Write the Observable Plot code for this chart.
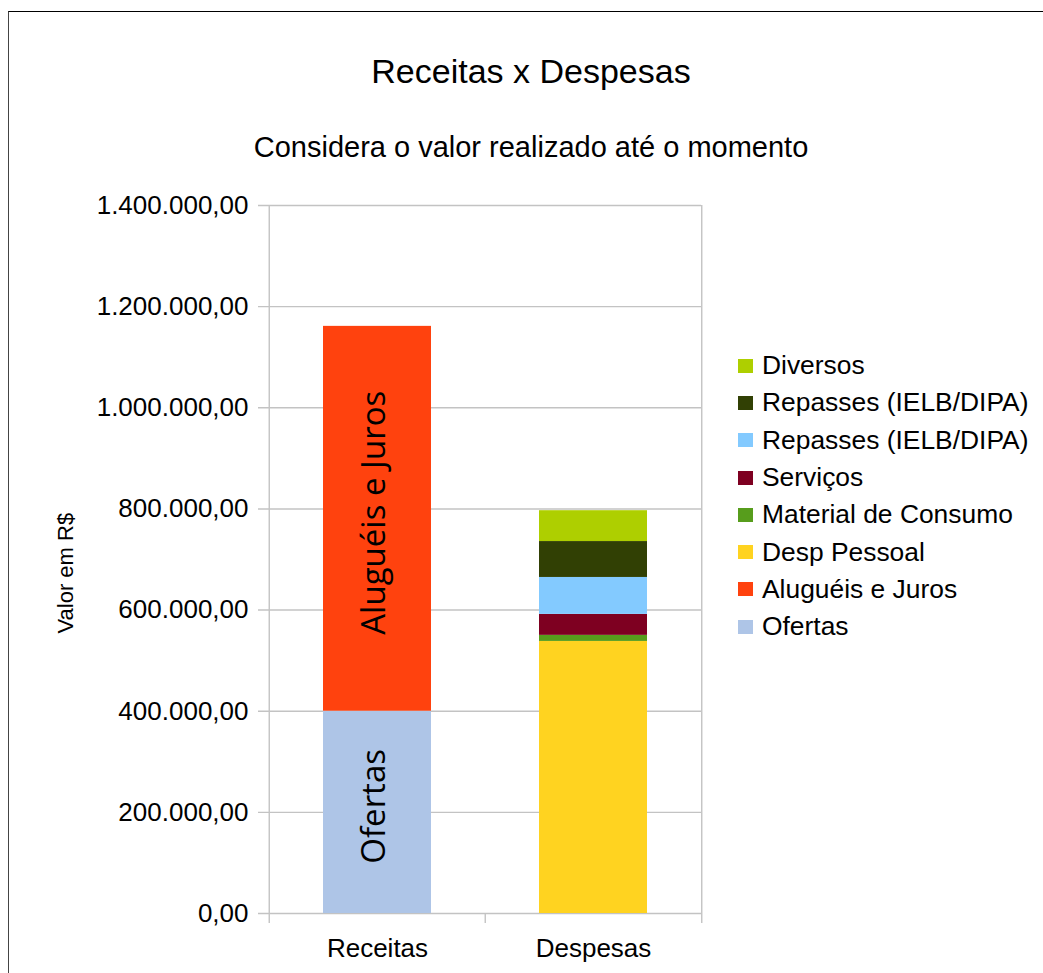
<!DOCTYPE html>
<html><head><meta charset="utf-8">
<script src="https://cdn.jsdelivr.net/npm/d3@7"></script>
<script src="https://cdn.jsdelivr.net/npm/@observablehq/plot@0.6"></script>
<style>
html,body{margin:0;padding:0;overflow:hidden;background:#fff;}
#root{position:relative;width:1043px;height:973px;font-family:"Liberation Sans",Arial,sans-serif;color:#000;}
#frame{position:absolute;left:8px;top:11px;width:1100px;height:1000px;border-top:1px solid #000;border-left:1px solid #444;box-sizing:border-box;}
#title{position:absolute;left:0;width:1062px;top:54px;text-align:center;font-size:34px;line-height:34px;white-space:nowrap;}
#subtitle{position:absolute;left:0;width:1062px;top:133px;text-align:center;font-size:29px;line-height:29px;white-space:nowrap;}
#chart{position:absolute;left:0;top:180px;}
#legend{position:absolute;left:738px;top:347px;}
.row{display:flex;align-items:center;height:37.3px;font-size:26.4px;white-space:nowrap;}
.sw{width:15px;height:14px;margin-right:9px;flex:none;}
</style>
</head><body>
<div id="root">
  <div id="frame"></div>
  <div id="title"></div>
  <div id="subtitle"></div>
  <div id="chart"></div>
  <div id="legend"></div>
</div>
<script>
const titleText = "Receitas x Despesas";
const subtitleText = "Considera o valor realizado até o momento";
const yLabel = "Valor em R$";
const categories = ["Receitas", "Despesas"];
const seriesKeys = ["s1", "s2", "s3", "s4", "s5", "s6", "s7", "s8"];
const seriesNames = ["Ofertas", "Aluguéis e Juros", "Desp Pessoal", "Material de Consumo", "Serviços", "Repasses (IELB/DIPA)", "Repasses (IELB/DIPA)", "Diversos"];
const seriesCategory = ["Receitas", "Receitas", "Despesas", "Despesas", "Despesas", "Despesas", "Despesas", "Despesas"];
const seriesValues = [400000, 761000, 538000, 12000, 41500, 73000, 71000, 61000];
const seriesColors = ["#aec5e7", "#ff420e", "#ffd320", "#579d1c", "#7e0021", "#83caff", "#314004", "#aecf00"];
const yTicks = [0, 200000, 400000, 600000, 800000, 1000000, 1200000, 1400000];

document.getElementById("title").textContent = titleText;
document.getElementById("subtitle").textContent = subtitleText;

const data = seriesKeys.map((k, i) => ({key: k, name: seriesNames[i], category: seriesCategory[i], value: seriesValues[i]}));
const locale = d3.formatLocale({decimal: ",", thousands: ".", grouping: [3], currency: ["R$", ""]});
const fmt = locale.format(",.2f");

const halfStep = 108.25;
const grid = "#c3c3c3";

const chart = Plot.plot({
  width: 1043, height: 793,
  marginLeft: 268, marginRight: 342, marginTop: 25, marginBottom: 60,
  style: {fontFamily: "'Liberation Sans', Arial, sans-serif", fontSize: "26px", color: "#000", background: "transparent", overflow: "visible"},
  x: {domain: categories, paddingInner: 0.5, paddingOuter: 0.25, label: null},
  y: {domain: [0, 1400000], label: null},
  color: {domain: seriesKeys, range: seriesColors},
  marks: [
    Plot.ruleY(yTicks, {stroke: grid, strokeWidth: 1.4, insetLeft: -10}),
    Plot.ruleX(["Receitas"], {y1: 1400000, y2: 0, dx: -halfStep, stroke: grid, strokeWidth: 1.4, insetBottom: -10}),
    Plot.ruleX(["Despesas"], {y1: 1400000, y2: 0, dx: halfStep, stroke: grid, strokeWidth: 1.4, insetBottom: -10}),
    Plot.ruleX(["Despesas"], {y1: 0, y2: 0, dx: -halfStep, stroke: grid, strokeWidth: 1.4, insetBottom: -10}),
    Plot.barY(data, {x: "category", y: "value", fill: "key"}),
    Plot.text(data.filter(d => d.category === "Receitas"), Plot.stackY({x: "category", y: "value", text: "name", rotate: -90, fontFamily: "'Open Sans', sans-serif", fontSize: 33, fill: "#000", dy: -6, dx: -3})),
    Plot.axisY(yTicks, {tickSize: 0, tickPadding: 20, tickFormat: fmt, label: null}),
    Plot.axisX({tickSize: 0, tickPadding: 25, label: null}),
    Plot.text([yLabel], {frameAnchor: "left", dx: -203, dy: 74, rotate: -90, fontSize: 22, fill: "#000"})
  ]
});
document.getElementById("chart").appendChild(chart);

const legend = document.getElementById("legend");
for (let i = seriesKeys.length - 1; i >= 0; i--) {
  const row = document.createElement("div");
  row.className = "row";
  const sw = document.createElement("span");
  sw.className = "sw";
  sw.style.background = seriesColors[i];
  const t = document.createElement("span");
  t.textContent = seriesNames[i];
  row.appendChild(sw); row.appendChild(t);
  legend.appendChild(row);
}
</script>
</body></html>
